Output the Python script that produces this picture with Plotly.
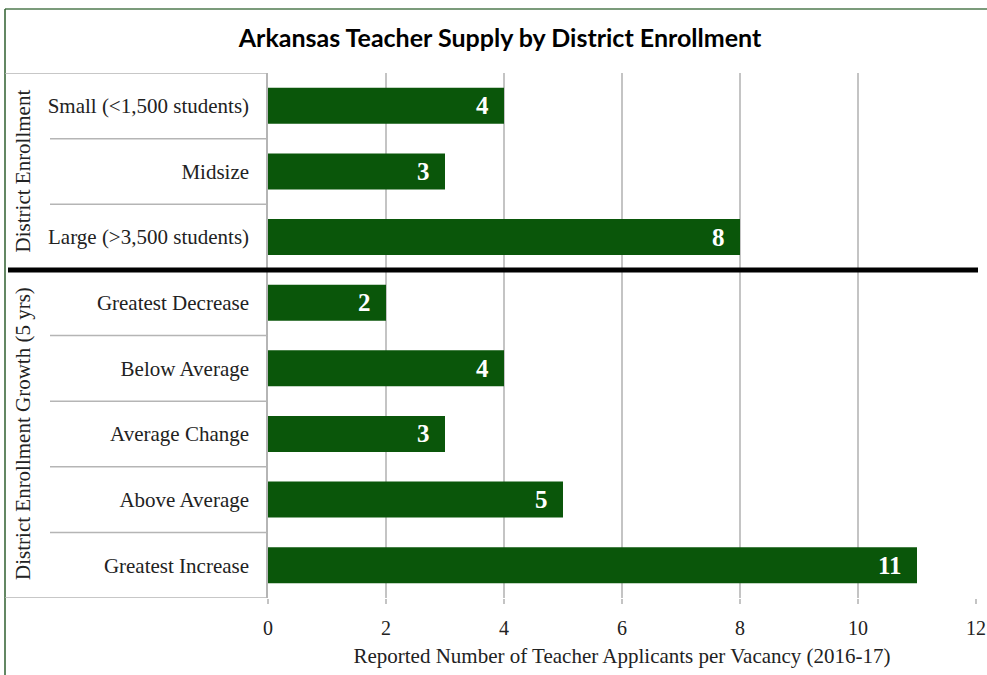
import plotly.graph_objects as go

categories = ['Small (<1,500 students)', 'Midsize', 'Large (>3,500 students)',
              'Greatest Decrease', 'Below Average', 'Average Change',
              'Above Average', 'Greatest Increase']
values = [4, 3, 8, 2, 4, 3, 5, 11]
groups = ['District Enrollment', 'District Enrollment Growth (5 yrs)']
x_ticks = [0, 2, 4, 6, 8, 10, 12]

W, H = 987, 675
L, R, T, B = 268, 11, 73, 77
SERIF = 'Liberation Serif, Times New Roman, serif'


def px(x):
    # pixel -> paper x
    return (x - L) / (W - L - R)


def py(y):
    return 1 - (y - T) / (H - T - B)


fig = go.Figure(go.Bar(
    x=values, y=categories, orientation='h',
    marker=dict(color='#0a560a', line=dict(width=0)),
    width=0.55,
    text=values, texttemplate='%{x}\u00a0\u00a0', textposition='inside', insidetextanchor='end',
    textfont=dict(family=SERIF, size=25, color='white', weight='bold'),
    cliponaxis=False,
))

shapes = []
# outer green frame
shapes.append(dict(type='line', xref='paper', yref='paper', x0=px(5), x1=px(990), y0=py(9), y1=py(9),
                   line=dict(color='#4f7a4f', width=1.5)))
shapes.append(dict(type='line', xref='paper', yref='paper', x0=px(5), x1=px(5), y0=py(9), y1=py(680),
                   line=dict(color='#2f5f2f', width=1.5)))
# row separators in label table
for i in range(len(categories) + 1):
    yv = i - 0.5
    if i in (0, len(categories)):
        shapes.append(dict(type='line', xref='paper', yref='y', x0=px(5), x1=0, y0=yv, y1=yv,
                           line=dict(color='#b5b5b5', width=1.5)))
    elif i == 3:
        shapes.append(dict(type='line', xref='paper', yref='y', x0=px(8), x1=px(978), y0=yv, y1=yv,
                           line=dict(color='black', width=5)))
    else:
        shapes.append(dict(type='line', xref='paper', yref='y', x0=px(50), x1=0, y0=yv, y1=yv,
                           line=dict(color='#b5b5b5', width=1.5)))

annotations = [
    dict(text=groups[0], xref='paper', yref='y', x=px(23), y=1, textangle=-90, showarrow=False,
         xanchor='center', yanchor='middle', font=dict(family=SERIF, size=21, color='#222')),
    dict(text=groups[1], xref='paper', yref='y', x=px(23), y=5, textangle=-90, showarrow=False,
         xanchor='center', yanchor='middle', font=dict(family=SERIF, size=21, color='#222')),
]

fig.update_layout(
    width=W, height=H,
    margin=dict(l=L, r=R, t=T, b=B, autoexpand=False),
    paper_bgcolor='white', plot_bgcolor='white',
    title=dict(text='<b>Arkansas Teacher Supply by District Enrollment</b>', x=500 / W, xref='container',
               xanchor='center', y=1 - 38 / H, yanchor='middle',
               font=dict(family='Lato, Open Sans, sans-serif', size=25, color='black')),
    xaxis=dict(range=[0, 12], tickvals=x_ticks, showgrid=True, gridcolor='#c4c4c4', gridwidth=1.5,
               zeroline=False, showline=False, ticks='outside', ticklen=5, tickcolor='#c4c4c4',
               tickwidth=1.5, automargin=False, ticklabelstandoff=7,
               tickfont=dict(family=SERIF, size=20, color='#222'),
               title=dict(text='Reported Number of Teacher Applicants per Vacancy (2016-17)',
                          font=dict(family=SERIF, size=21, color='#222'), standoff=10)),
    yaxis=dict(categoryorder='array', categoryarray=categories, range=[7.5, -0.5],
               showgrid=False, zeroline=False, showline=True, linecolor='#b5b5b5', linewidth=1.5,
               ticks='', ticklabelstandoff=13, automargin=False,
               tickfont=dict(family=SERIF, size=21, color='#222')),
    shapes=shapes, annotations=annotations,
    showlegend=False,
)

fig.write_html('out.html', config={'displayModeBar': False},
               post_script="document.body.style.margin='0';")
